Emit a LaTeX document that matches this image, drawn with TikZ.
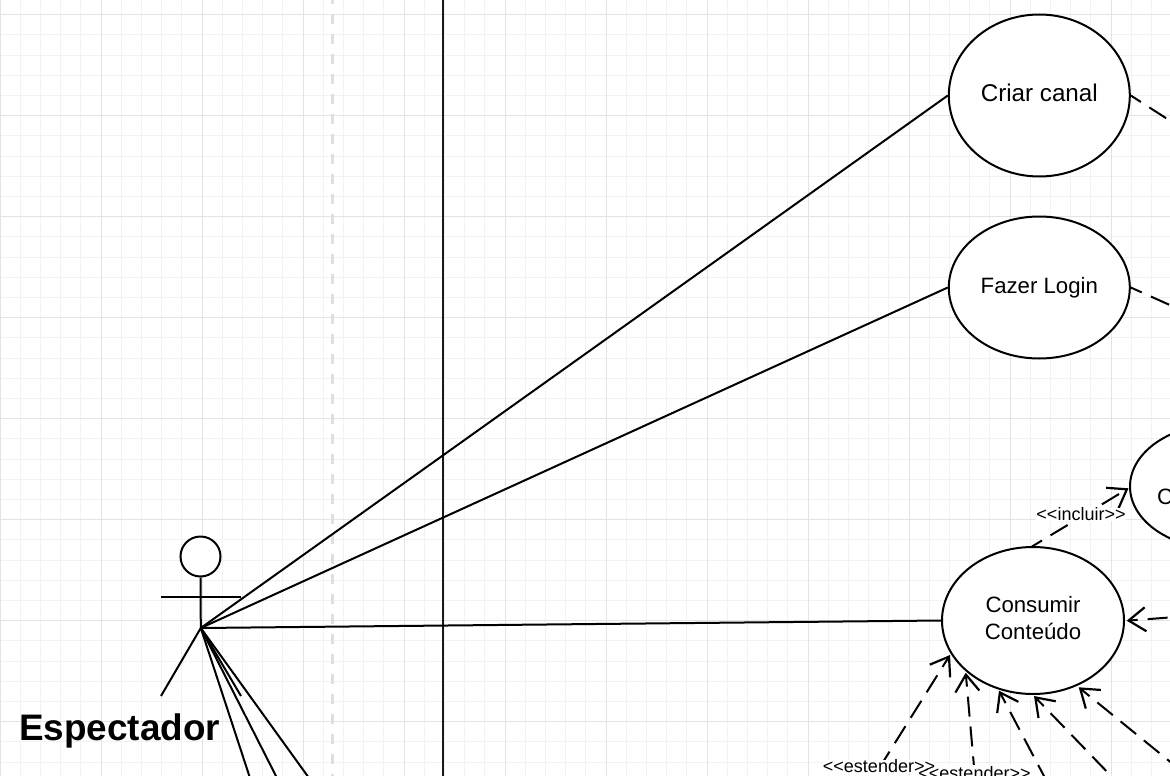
\documentclass[tikz,border=0pt]{standalone}
\usepackage{fontspec}
\setmainfont{Liberation Sans}
\usetikzlibrary{shapes.geometric,arrows.meta}
\tikzset{
  usecase/.style={draw=black,fill=white,ellipse,line width=2pt,inner sep=0pt,text=black,align=center,font=\fontsize{22.2}{27}\selectfont},
  assoc/.style={draw=black,line width=2pt},
  actorline/.style={draw=black,line width=2pt},
  relplain/.style={draw=black,line width=2pt,dash pattern=on 20pt off 10pt,dash phase=8pt},
  barbtip/.tip={Straight Barb[length=17pt,width=24pt,line width=2.2pt]},
  relarrow/.style={draw=black,line width=2pt,dash pattern=on 20pt off 10pt,dash phase=9pt,barbtip-},
  rellabel/.style={inner sep=0pt,font=\fontsize{18}{20}\selectfont,text=black},
  gridminor/.style={draw=gray!10,line width=1pt},
  gridmajor/.style={draw=gray!22,line width=1pt}
}
\begin{document}
\begin{tikzpicture}[x=1pt,y=-1pt]
\useasboundingbox (0,0) rectangle (1170,776);
\clip (0,0) rectangle (1170,776);
\fill[white] (0,0) rectangle (1170,776);
% grid
\foreach \i in {0,...,58} {\draw[gridminor] ({\i*20.2},0) -- ({\i*20.2},776);}
\foreach \i in {0,...,38} {\draw[gridminor] (0,{14.7-20.2+\i*20.2}) -- (1170,{14.7-20.2+\i*20.2});}
\foreach \i in {0,...,11} {\draw[gridmajor] ({\i*101},0) -- ({\i*101},776);}
\foreach \i in {0,...,7} {\draw[gridmajor] (0,{14.7+\i*101}) -- (1170,{14.7+\i*101});}
% vertical lines
\coordinate (dashTop) at (332.5,0);
\coordinate (dashBot) at (332.5,776);
\coordinate (solidTop) at (443.3,0);
\coordinate (solidBot) at (443.3,776);
\draw[draw=gray!25,line width=3pt,dash pattern=on 10pt off 10pt,dash phase=6pt] (dashTop) -- (dashBot);
\draw[draw=black!90,line width=2pt] (solidTop) -- (solidBot);
% use cases
\node[usecase,minimum width=181pt,minimum height=162pt] (criar) at (1039.3,95.5) {\raisebox{5.5pt}{\fontsize{24.2}{27}\selectfont Criar canal}};
\node[usecase,minimum width=181pt,minimum height=142pt] (login) at (1039.3,287.5) {\raisebox{5pt}{Fazer Login}};
\node[usecase,minimum width=182pt,minimum height=147pt] (consumir) at (1033,620.5) {\raisebox{3pt}{\begin{tabular}{@{}c@{}}Consumir\\[-0.3pt]Conteúdo\end{tabular}}};
\node[usecase,minimum width=182pt,minimum height=125pt] (comentar) at (1221,486.5) {};
\node[anchor=west,inner sep=0pt,font=\fontsize{22.2}{27}\selectfont] (comentarT) at (1157,497) {C};
% actor
\node[draw=black,fill=white,circle,line width=2pt,minimum size=40pt,inner sep=0pt] (head) at (200.5,556.5) {};
\coordinate (hip) at (200.8,628);
\coordinate (armL) at (161,596.5);
\coordinate (armR) at (241,596.5);
\coordinate (legL) at (161,696);
\coordinate (legR) at (241,696);
\draw[actorline] (head.south) -- (hip);
\draw[actorline] (armL) -- (armR);
\draw[actorline] (legL) -- (hip) -- (legR);
\node[inner sep=0pt,font=\bfseries\fontsize{36.9}{40}\selectfont] (spect) at (119.5,731) {Espectador};
% associations
\coordinate (down1) at (250,778);
\coordinate (down2) at (277,778);
\coordinate (down3) at (309,778);
\draw[assoc] (hip) -- (criar.west);
\draw[assoc] (hip) -- (login.west);
\draw[assoc] (hip) -- (consumir.west);
\draw[assoc] (hip) -- (down1);
\draw[assoc] (hip) -- (down2);
\draw[assoc] (hip) -- (down3);
% dashed relations
\coordinate (freeA) at (1172,122);
\coordinate (freeB) at (1172,306);
\draw[relplain] (criar.east) -- (freeA);
\draw[relplain] (login.east) -- (freeB);
\coordinate (tipInc) at (1128.5,488.3);
\coordinate (srcInc) at (1031.7,546.7);
\draw[draw=black,line width=2pt,dash pattern=on 20pt off 10pt,dash phase=8pt,-barbtip] (srcInc) -- (tipInc);
\node[rellabel,fill=white] (lblInc) at (1081,514.5) {<{}<incluir>{}>};
\coordinate (tipD) at (1126.7,620.7);
\coordinate (freeD) at (1172,617.3);
\draw[relarrow,dash phase=12pt] (tipD) -- (freeD);
\coordinate (tipE1) at (950,655);
\coordinate (freeE1) at (873,778);
\coordinate (tipE2) at (965.7,672.7);
\coordinate (freeE2) at (975,778);
\coordinate (tipE3) at (999,690.7);
\coordinate (freeE3) at (1045,778);
\coordinate (tipE4) at (1034,696);
\coordinate (freeE4) at (1113,778);
\coordinate (tipE5) at (1078.7,687.3);
\coordinate (freeE5) at (1172,763.3);
\draw[relarrow] (tipE1) -- (freeE1);
\draw[relarrow] (tipE2) -- (freeE2);
\draw[relarrow] (tipE3) -- (freeE3);
\draw[relarrow] (tipE4) -- (freeE4);
\draw[relarrow] (tipE5) -- (freeE5);
\fill[white] (918,765) rectangle (1031,776);
\node[rellabel,fill=white] (lblE1) at (879,766.5) {<{}<estender>{}>};
\node[rellabel] (lblE2) at (974.5,773) {<{}<estender>{}>};
\end{tikzpicture}
\end{document}
